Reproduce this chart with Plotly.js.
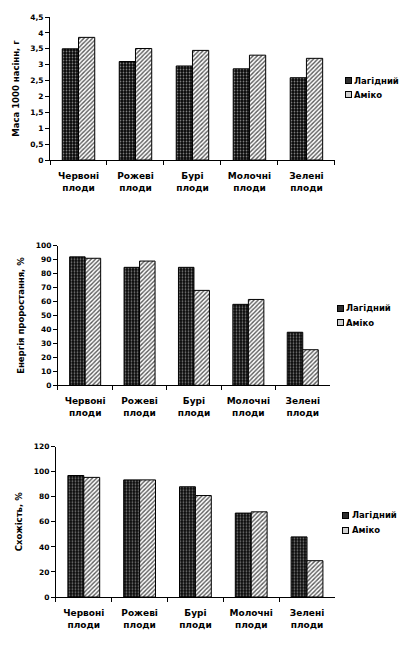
<!DOCTYPE html>
<html>
<head>
<meta charset="utf-8">
<script src="https://cdn.plot.ly/plotly-3.0.1.min.js"></script>
<style>
html,body{margin:0;padding:0;background:#fff;}
#chart{width:414px;height:650px;}
</style>
</head>
<body>
<div id="chart"></div>
<script>
const categories = ["Червоні<br>плоди", "Рожеві<br>плоди", "Бурі<br>плоди", "Молочні<br>плоди", "Зелені<br>плоди"];
const seriesNames = ["Лагідний", "Аміко"];
const massLagidnyi = [3.50, 3.10, 2.96, 2.87, 2.59];
const massAmiko = [3.86, 3.51, 3.45, 3.30, 3.20];
const energyLagidnyi = [92, 84.5, 84.5, 58, 38];
const energyAmiko = [91, 89, 68, 61.5, 25.5];
const germLagidnyi = [97, 93.5, 88, 67, 48];
const germAmiko = [95.5, 93.5, 81, 68, 29];
const yTitles = ["Маса 1000 насінн, г", "Енергія проростання, %", "Схожість, %"];

const FONT = "DejaVu Sans, Verdana, sans-serif";
const darkPattern = {shape: ".", bgcolor: "#080808", fgcolor: "#808080", size: 3, solidity: 0.27};
const lightPattern = {shape: "/", bgcolor: "#ffffff", fgcolor: "#5a5a5a", size: 3, solidity: 0.45};
const swatchColors = ["#2e2e2e", "#d0d0d0"];

function pair(yA, yB, idx) {
  const sfx = idx === 1 ? "" : String(idx);
  return [
    {type: "bar", x: categories, y: yA, name: seriesNames[0], xaxis: "x" + sfx, yaxis: "y" + sfx, showlegend: false,
     marker: {color: "#080808", pattern: darkPattern, line: {color: "#000", width: 1}}},
    {type: "bar", x: categories, y: yB, name: seriesNames[1], xaxis: "x" + sfx, yaxis: "y" + sfx, showlegend: false,
     marker: {color: "#ffffff", pattern: lightPattern, line: {color: "#000", width: 1}}}
  ];
}

const data = [].concat(pair(massLagidnyi, massAmiko, 1), pair(energyLagidnyi, energyAmiko, 2), pair(germLagidnyi, germAmiko, 3));

const tickFont = {family: FONT, size: 9, color: "#000", weight: "bold"};
function xax(dom, anchor) {
  return {domain: dom, anchor: anchor, type: "category", showline: true, linecolor: "#000", linewidth: 1,
    ticks: "outside", tickson: "boundaries", ticklen: 4, tickcolor: "#000", tickfont: tickFont,
    ticklabelstandoff: 7, showgrid: false, fixedrange: true};
}
function yax(dom, anchor, range, dtick, title, standoff) {
  return {domain: dom, anchor: anchor, range: range, dtick: dtick, showline: true, linecolor: "#000", linewidth: 1,
    ticks: "outside", ticklen: 4, tickcolor: "#000", tickfont: {family: FONT, size: 7.5, color: "#000", weight: "bold"},
    showgrid: false, zeroline: false, fixedrange: true,
    title: {text: title, font: {family: FONT, size: 8.5, color: "#000", weight: "bold"}, standoff: standoff}};
}

// Legend built per chart: swatch box + real text label
const legendSpots = [
  {sx: 348.3, tx: 353.3, ys: [81, 94.5]},
  {sx: 340, tx: 345, ys: [308.3, 322.7]},
  {sx: 345, tx: 351, ys: [515, 530]}
];
const annotations = [];
legendSpots.forEach(function (spot) {
  seriesNames.forEach(function (nm, i) {
    const yp = 1 - spot.ys[i] / 650;
    annotations.push({xref: "paper", yref: "paper", x: spot.sx / 414, y: yp, xanchor: "center", yanchor: "middle",
      text: " ", showarrow: false, width: 5, height: 5, borderpad: 0, bgcolor: swatchColors[i],
      bordercolor: "#000", borderwidth: 1, font: {size: 1}});
    annotations.push({xref: "paper", yref: "paper", x: spot.tx / 414, y: yp, xanchor: "left", yanchor: "middle",
      text: nm, showarrow: false, borderpad: 0,
      font: {family: FONT, size: 8.5, color: "#000", weight: "bold"}});
  });
});

const layout = {
  width: 414, height: 650,
  margin: {l: 0, r: 0, t: 0, b: 0},
  paper_bgcolor: "#fff", plot_bgcolor: "#fff",
  separators: ", ",
  barmode: "group", bargap: 0.43, bargroupgap: 0,
  showlegend: false,
  xaxis: xax([0.1208, 0.809], "y"),
  yaxis: yax([0.7538, 0.9738], "x", [0, 4.5], 0.5, yTitles[0], 9),
  xaxis2: xax([0.140, 0.797], "y2"),
  yaxis2: yax([0.4072, 0.622], "x2", [0, 100], 10, yTitles[1], 9),
  xaxis3: xax([0.135, 0.809], "y3"),
  yaxis3: yax([0.0815, 0.3128], "x3", [0, 120], 20, yTitles[2], 9),
  annotations: annotations
};

Plotly.newPlot("chart", data, layout, {staticPlot: true, displayModeBar: false});
</script>
</body>
</html>
